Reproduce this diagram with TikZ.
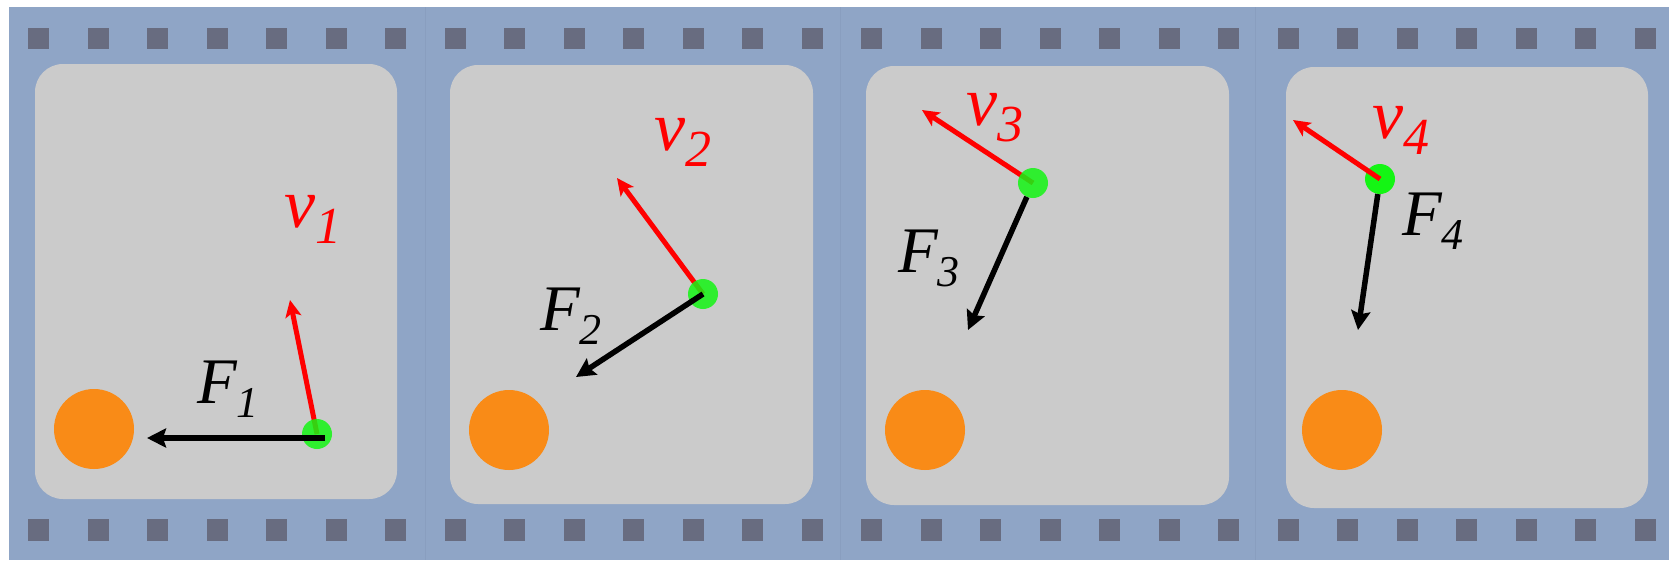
\documentclass[tikz,border=0pt]{standalone}
\usepackage{fontspec}
\setmainfont{Liberation Serif}
\usetikzlibrary{arrows.meta}
\definecolor{stripblue}{HTML}{8FA5C6}
\definecolor{seamblue}{HTML}{899EBF}
\definecolor{holegray}{HTML}{686C80}
\definecolor{panelgray}{HTML}{CBCBCB}
\definecolor{ballorange}{HTML}{F98B17}
\definecolor{dotgreen}{HTML}{14F514}
\definecolor{velred}{HTML}{FF0000}
\newcommand{\vlab}[1]{{\fontsize{70}{74}\selectfont\itshape v}\raisebox{-16pt}{\fontsize{52}{56}\selectfont\itshape #1}}
\newcommand{\flab}[1]{{\fontsize{65}{70}\selectfont\itshape F}\raisebox{-14pt}{\fontsize{44}{48}\selectfont\itshape #1}}
\tikzset{
  hole/.style={fill=holegray, draw=none},
  panel/.style={fill=panelgray, draw=none, rounded corners=28pt},
  ball/.style={circle, fill=ballorange, draw=none, minimum size=80pt, inner sep=0pt},
  mass/.style={circle, fill=dotgreen, draw=none, minimum size=30pt, inner sep=0pt},
  velarrow/.style={draw=velred, line width=5pt, -{Stealth[length=17pt,width=16pt,inset=4pt]}},
  forcearrow/.style={draw=black, line width=5.5pt, -{Stealth[length=19pt,width=19pt,inset=3pt]}},
  lab/.style={anchor=base west, inner sep=0pt, outer sep=0pt},
  seam/.style={draw=seamblue, line width=1pt}
}
\begin{document}
\begin{tikzpicture}[x=1pt,y=-1pt]
\useasboundingbox (0,0) rectangle (1669,560);
\fill[white] (0,0) rectangle (1669,560);
% film strip
\fill[stripblue] (9,7) rectangle (1669,560);
\draw[seam] (425,7) -- (425,560);
\draw[seam] (840,7) -- (840,560);
\draw[seam] (1255,7) -- (1255,560);
% sprocket holes
\foreach \k in {0,...,27}{
  \fill[hole] ({28+59.5*\k},28) rectangle ++(21,21);
  \fill[hole] ({28+59.5*\k},519) rectangle ++(21,22);
}
% panels
\fill[panel] (35,64) rectangle (397,499);
\fill[panel] (450,65) rectangle (813,504);
\fill[panel] (866,66) rectangle (1229,505);
\fill[panel] (1286,67) rectangle (1648,508);
% attracting balls
\node[ball] (b1) at (94,429) {};
\node[ball] (b2) at (509,430) {};
\node[ball] (b3) at (925,430) {};
\node[ball] (b4) at (1342,430) {};
% arrow tips
\coordinate (vt1) at (290,300);
\coordinate (vt2) at (617,178);
\coordinate (vt3) at (922,110);
\coordinate (vt4) at (1293,120);
\coordinate (ft1) at (147,438);
\coordinate (ft2) at (576,377);
\coordinate (ft3) at (968,330);
\coordinate (ft4) at (1358,330);
% frame 1
\coordinate (m1c) at (317,434);
\draw[velarrow] (m1c) -- (vt1);
\node[mass, opacity=0.85] (m1) at (m1c) {};
\draw[forcearrow] ([shift={(8,4)}]m1.center) -- (ft1);
% frame 2
\coordinate (m2c) at (703,294);
\draw[velarrow] (m2c) -- (vt2);
\node[mass, opacity=0.85] (m2) at (m2c) {};
\draw[forcearrow] (m2.center) -- (ft2);
% frame 3
\coordinate (m3c) at (1033,183);
\draw[velarrow] (m3c) -- (vt3);
\node[mass, opacity=0.85] (m3) at (m3c) {};
\draw[forcearrow] (m3) -- (ft3);
% frame 4
\node[mass] (m4) at (1380,179) {};
\draw[velarrow] (m4.center) -- (vt4);
\draw[forcearrow] (m4) -- (ft4);
% labels
\node[lab, text=velred] (lv1) at (284,227) {\vlab{1}};
\node[lab, text=velred] (lv2) at (654,150) {\vlab{2}};
\node[lab, text=velred] (lv3) at (966,125) {\vlab{3}};
\node[lab, text=velred] (lv4) at (1372,138) {\vlab{4}};
\node[lab] (lf1) at (197,403) {\flab{1}};
\node[lab] (lf2) at (540,330) {\flab{2}};
\node[lab] (lf3) at (898,272) {\flab{3}};
\node[lab] (lf4) at (1402,235) {\flab{4}};
\end{tikzpicture}
\end{document}
